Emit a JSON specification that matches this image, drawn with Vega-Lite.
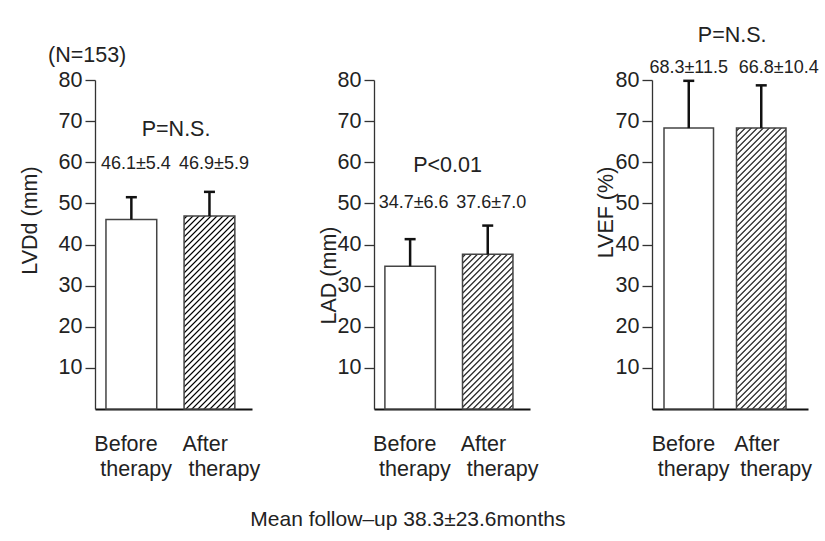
{
  "$schema": "https://vega.github.io/schema/vega-lite/v6.json",
  "background": "white",
  "padding": {"left": 19, "top": 25, "right": 5, "bottom": 10},
  "config": {
    "font": "Liberation Sans",
    "view": {"stroke": null},
    "axis": {"labelFont": "Liberation Sans", "titleFont": "Liberation Sans", "labelColor": "#222", "titleColor": "#222", "grid": false},
    "axisX": {"title": null, "labelAngle": 0, "ticks": false, "tickSize": 0, "labelExpr": "[split(datum.label, ' ')[0], '\u200b\u00a0' + split(datum.label, ' ')[1]]", "labelFontSize": 21.5, "labelLineHeight": 25, "labelPadding": 24, "labelAlign": "left", "labelOffset": {"condition": {"test": "datum.value === 'After therapy'", "value": -27}, "value": -37}, "domainColor": "#111", "domainWidth": 2, "zindex": 1},
    "axisY": {"domainColor": "#333", "domainWidth": 1.3, "tickColor": "#333", "tickWidth": 1.3, "tickSize": 10, "labelPadding": 3, "labelFontSize": 21.5, "titleFontSize": 21.5, "titleFontWeight": "normal", "titleAngle": 270, "titleBaseline": "alphabetic", "titleAlign": "center"},
    "text": {"font": "Liberation Sans", "color": "#222"}
  },
  "datasets": {
    "echo": [
      {"panel": "LVDd", "group": "Before therapy", "mean": 46.1, "upper": 51.5, "label": "46.1±5.4"},
      {"panel": "LVDd", "group": "After therapy", "mean": 46.9, "upper": 52.8, "label": "46.9±5.9"},
      {"panel": "LAD", "group": "Before therapy", "mean": 34.7, "upper": 41.3, "label": "34.7±6.6"},
      {"panel": "LAD", "group": "After therapy", "mean": 37.6, "upper": 44.6, "label": "37.6±7.0"},
      {"panel": "LVEF", "group": "Before therapy", "mean": 68.3, "upper": 79.8, "label": "68.3±11.5"},
      {"panel": "LVEF", "group": "After therapy", "mean": 68.3, "upper": 78.7, "label": "66.8±10.4"}
    ]
  },
  "data": {"name": "echo"},
  "title": {"text": "Mean follow–up 38.3±23.6months", "orient": "bottom", "anchor": "middle", "fontSize": 21, "fontWeight": "normal", "font": "Liberation Sans", "color": "#222", "dx": -11, "offset": 29},
  "spacing": 122,
  "bounds": "flush",
  "hconcat": [
    {
      "width": 157, "height": 329,
      "title": {"text": "(N=153)", "anchor": "start", "frame": "group", "fontSize": 21.5, "fontWeight": "normal", "font": "Liberation Sans", "color": "#222", "dx": -47, "offset": 3},
      "transform": [{"filter": "datum.panel === 'LVDd'"}],
      "encoding": {
        "x": {"field": "group", "type": "nominal", "sort": ["Before therapy", "After therapy"],
          "scale": {"paddingInner": 0.35, "paddingOuter": 0.18, "align": 0.39}},
        "y": {"field": "mean", "type": "quantitative", "scale": {"domain": [0, 80], "nice": false},
          "axis": {"title": "LVDd (mm)", "values": [10, 20, 30, 40, 50, 60, 70, 80], "titleX": -59, "titleY": 140}}
      },
      "layer": [
        {"transform": [{"filter": "datum.group === 'Before therapy'"}], "mark": {"type": "bar", "fill": "white", "stroke": "#444", "strokeWidth": 1.5}},
        {"transform": [{"filter": "datum.group === 'After therapy'"}], "mark": {"type": "bar", "stroke": "#444", "strokeWidth": 1.5,
          "fill": {"gradient": "linear", "x1": 0, "y1": 0, "x2": 0.5104, "y2": 1.9393, "stops": [
{"offset":0.003,"color":"#fff"},{"offset":0.007,"color":"#000"},{"offset":0.011,"color":"#fff"},
{"offset":0.018,"color":"#fff"},{"offset":0.022,"color":"#000"},{"offset":0.026,"color":"#fff"},
{"offset":0.033,"color":"#fff"},{"offset":0.037,"color":"#000"},{"offset":0.041,"color":"#fff"},
{"offset":0.048,"color":"#fff"},{"offset":0.052,"color":"#000"},{"offset":0.056,"color":"#fff"},
{"offset":0.063,"color":"#fff"},{"offset":0.067,"color":"#000"},{"offset":0.071,"color":"#fff"},
{"offset":0.078,"color":"#fff"},{"offset":0.082,"color":"#000"},{"offset":0.086,"color":"#fff"},
{"offset":0.093,"color":"#fff"},{"offset":0.097,"color":"#000"},{"offset":0.101,"color":"#fff"},
{"offset":0.108,"color":"#fff"},{"offset":0.112,"color":"#000"},{"offset":0.116,"color":"#fff"},
{"offset":0.123,"color":"#fff"},{"offset":0.127,"color":"#000"},{"offset":0.131,"color":"#fff"},
{"offset":0.138,"color":"#fff"},{"offset":0.142,"color":"#000"},{"offset":0.146,"color":"#fff"},
{"offset":0.153,"color":"#fff"},{"offset":0.157,"color":"#000"},{"offset":0.161,"color":"#fff"},
{"offset":0.168,"color":"#fff"},{"offset":0.172,"color":"#000"},{"offset":0.176,"color":"#fff"},
{"offset":0.183,"color":"#fff"},{"offset":0.187,"color":"#000"},{"offset":0.191,"color":"#fff"},
{"offset":0.198,"color":"#fff"},{"offset":0.202,"color":"#000"},{"offset":0.206,"color":"#fff"},
{"offset":0.213,"color":"#fff"},{"offset":0.217,"color":"#000"},{"offset":0.221,"color":"#fff"},
{"offset":0.228,"color":"#fff"},{"offset":0.232,"color":"#000"},{"offset":0.236,"color":"#fff"},
{"offset":0.243,"color":"#fff"},{"offset":0.247,"color":"#000"},{"offset":0.251,"color":"#fff"},
{"offset":0.258,"color":"#fff"},{"offset":0.262,"color":"#000"},{"offset":0.266,"color":"#fff"},
{"offset":0.273,"color":"#fff"},{"offset":0.277,"color":"#000"},{"offset":0.281,"color":"#fff"},
{"offset":0.288,"color":"#fff"},{"offset":0.292,"color":"#000"},{"offset":0.296,"color":"#fff"},
{"offset":0.303,"color":"#fff"},{"offset":0.307,"color":"#000"},{"offset":0.311,"color":"#fff"},
{"offset":0.318,"color":"#fff"},{"offset":0.322,"color":"#000"},{"offset":0.326,"color":"#fff"},
{"offset":0.333,"color":"#fff"},{"offset":0.337,"color":"#000"},{"offset":0.341,"color":"#fff"},
{"offset":0.348,"color":"#fff"},{"offset":0.352,"color":"#000"},{"offset":0.356,"color":"#fff"},
{"offset":0.363,"color":"#fff"},{"offset":0.367,"color":"#000"},{"offset":0.371,"color":"#fff"},
{"offset":0.378,"color":"#fff"},{"offset":0.382,"color":"#000"},{"offset":0.386,"color":"#fff"},
{"offset":0.393,"color":"#fff"},{"offset":0.397,"color":"#000"},{"offset":0.401,"color":"#fff"},
{"offset":0.408,"color":"#fff"},{"offset":0.412,"color":"#000"},{"offset":0.416,"color":"#fff"},
{"offset":0.423,"color":"#fff"},{"offset":0.427,"color":"#000"},{"offset":0.431,"color":"#fff"},
{"offset":0.438,"color":"#fff"},{"offset":0.442,"color":"#000"},{"offset":0.446,"color":"#fff"},
{"offset":0.453,"color":"#fff"},{"offset":0.457,"color":"#000"},{"offset":0.461,"color":"#fff"},
{"offset":0.468,"color":"#fff"},{"offset":0.472,"color":"#000"},{"offset":0.476,"color":"#fff"},
{"offset":0.483,"color":"#fff"},{"offset":0.487,"color":"#000"},{"offset":0.491,"color":"#fff"},
{"offset":0.498,"color":"#fff"},{"offset":0.502,"color":"#000"},{"offset":0.506,"color":"#fff"},
{"offset":0.513,"color":"#fff"},{"offset":0.517,"color":"#000"},{"offset":0.521,"color":"#fff"},
{"offset":0.528,"color":"#fff"},{"offset":0.532,"color":"#000"},{"offset":0.536,"color":"#fff"},
{"offset":0.543,"color":"#fff"},{"offset":0.547,"color":"#000"},{"offset":0.551,"color":"#fff"},
{"offset":0.558,"color":"#fff"},{"offset":0.562,"color":"#000"},{"offset":0.566,"color":"#fff"},
{"offset":0.573,"color":"#fff"},{"offset":0.577,"color":"#000"},{"offset":0.581,"color":"#fff"},
{"offset":0.588,"color":"#fff"},{"offset":0.592,"color":"#000"},{"offset":0.596,"color":"#fff"},
{"offset":0.603,"color":"#fff"},{"offset":0.607,"color":"#000"},{"offset":0.611,"color":"#fff"},
{"offset":0.618,"color":"#fff"},{"offset":0.622,"color":"#000"},{"offset":0.626,"color":"#fff"}
          ]}}},
        {"mark": {"type": "rule", "strokeWidth": 2.5, "color": "#111"}, "encoding": {"y2": {"field": "upper"}}},
        {"mark": {"type": "tick", "orient": "horizontal", "size": 11, "thickness": 2.5, "color": "#111", "opacity": 1}, "encoding": {"y": {"field": "upper", "type": "quantitative"}}},
        {"mark": {"type": "text", "baseline": "alphabetic", "fontSize": 18, "dx": 4.5}, "encoding": {"y": {"datum": 58.4}, "text": {"field": "label"}}},
        {"transform": [{"filter": "datum.group === 'After therapy'"}], "mark": {"type": "text", "text": "P=N.S.", "baseline": "alphabetic", "fontSize": 21.5, "dx": -8}, "encoding": {"x": {"datum": "After therapy", "type": "nominal", "bandPosition": 0}, "y": {"datum": 66.4}}}
      ]
    },
    {
      "width": 156, "height": 329,
      "transform": [{"filter": "datum.panel === 'LAD'"}],
      "encoding": {
        "x": {"field": "group", "type": "nominal", "sort": ["Before therapy", "After therapy"],
          "scale": {"paddingInner": 0.35, "paddingOuter": 0.18, "align": 0.39}},
        "y": {"field": "mean", "type": "quantitative", "scale": {"domain": [0, 80], "nice": false},
          "axis": {"title": "LAD (mm)", "values": [10, 20, 30, 40, 50, 60, 70, 80], "titleX": -39, "titleY": 195}}
      },
      "layer": [
        {"transform": [{"filter": "datum.group === 'Before therapy'"}], "mark": {"type": "bar", "fill": "white", "stroke": "#444", "strokeWidth": 1.5}},
        {"transform": [{"filter": "datum.group === 'After therapy'"}], "mark": {"type": "bar", "stroke": "#444", "strokeWidth": 1.5,
          "fill": {"gradient": "linear", "x1": 0, "y1": 0, "x2": 0.7637, "y2": 2.3379, "stops": [
{"offset":0.003,"color":"#fff"},{"offset":0.007,"color":"#000"},{"offset":0.011,"color":"#fff"},
{"offset":0.018,"color":"#fff"},{"offset":0.022,"color":"#000"},{"offset":0.026,"color":"#fff"},
{"offset":0.033,"color":"#fff"},{"offset":0.037,"color":"#000"},{"offset":0.041,"color":"#fff"},
{"offset":0.048,"color":"#fff"},{"offset":0.052,"color":"#000"},{"offset":0.056,"color":"#fff"},
{"offset":0.063,"color":"#fff"},{"offset":0.067,"color":"#000"},{"offset":0.071,"color":"#fff"},
{"offset":0.078,"color":"#fff"},{"offset":0.082,"color":"#000"},{"offset":0.086,"color":"#fff"},
{"offset":0.093,"color":"#fff"},{"offset":0.097,"color":"#000"},{"offset":0.101,"color":"#fff"},
{"offset":0.108,"color":"#fff"},{"offset":0.112,"color":"#000"},{"offset":0.116,"color":"#fff"},
{"offset":0.123,"color":"#fff"},{"offset":0.127,"color":"#000"},{"offset":0.131,"color":"#fff"},
{"offset":0.138,"color":"#fff"},{"offset":0.142,"color":"#000"},{"offset":0.146,"color":"#fff"},
{"offset":0.153,"color":"#fff"},{"offset":0.157,"color":"#000"},{"offset":0.161,"color":"#fff"},
{"offset":0.168,"color":"#fff"},{"offset":0.172,"color":"#000"},{"offset":0.176,"color":"#fff"},
{"offset":0.183,"color":"#fff"},{"offset":0.187,"color":"#000"},{"offset":0.191,"color":"#fff"},
{"offset":0.198,"color":"#fff"},{"offset":0.202,"color":"#000"},{"offset":0.206,"color":"#fff"},
{"offset":0.213,"color":"#fff"},{"offset":0.217,"color":"#000"},{"offset":0.221,"color":"#fff"},
{"offset":0.228,"color":"#fff"},{"offset":0.232,"color":"#000"},{"offset":0.236,"color":"#fff"},
{"offset":0.243,"color":"#fff"},{"offset":0.247,"color":"#000"},{"offset":0.251,"color":"#fff"},
{"offset":0.258,"color":"#fff"},{"offset":0.262,"color":"#000"},{"offset":0.266,"color":"#fff"},
{"offset":0.273,"color":"#fff"},{"offset":0.277,"color":"#000"},{"offset":0.281,"color":"#fff"},
{"offset":0.288,"color":"#fff"},{"offset":0.292,"color":"#000"},{"offset":0.296,"color":"#fff"},
{"offset":0.303,"color":"#fff"},{"offset":0.307,"color":"#000"},{"offset":0.311,"color":"#fff"},
{"offset":0.318,"color":"#fff"},{"offset":0.322,"color":"#000"},{"offset":0.326,"color":"#fff"},
{"offset":0.333,"color":"#fff"},{"offset":0.337,"color":"#000"},{"offset":0.341,"color":"#fff"},
{"offset":0.348,"color":"#fff"},{"offset":0.352,"color":"#000"},{"offset":0.356,"color":"#fff"},
{"offset":0.363,"color":"#fff"},{"offset":0.367,"color":"#000"},{"offset":0.371,"color":"#fff"},
{"offset":0.378,"color":"#fff"},{"offset":0.382,"color":"#000"},{"offset":0.386,"color":"#fff"},
{"offset":0.393,"color":"#fff"},{"offset":0.397,"color":"#000"},{"offset":0.401,"color":"#fff"},
{"offset":0.408,"color":"#fff"},{"offset":0.412,"color":"#000"},{"offset":0.416,"color":"#fff"},
{"offset":0.423,"color":"#fff"},{"offset":0.427,"color":"#000"},{"offset":0.431,"color":"#fff"},
{"offset":0.438,"color":"#fff"},{"offset":0.442,"color":"#000"},{"offset":0.446,"color":"#fff"},
{"offset":0.453,"color":"#fff"},{"offset":0.457,"color":"#000"},{"offset":0.461,"color":"#fff"},
{"offset":0.468,"color":"#fff"},{"offset":0.472,"color":"#000"},{"offset":0.476,"color":"#fff"},
{"offset":0.483,"color":"#fff"},{"offset":0.487,"color":"#000"},{"offset":0.491,"color":"#fff"},
{"offset":0.498,"color":"#fff"},{"offset":0.502,"color":"#000"},{"offset":0.506,"color":"#fff"},
{"offset":0.513,"color":"#fff"},{"offset":0.517,"color":"#000"},{"offset":0.521,"color":"#fff"},
{"offset":0.528,"color":"#fff"},{"offset":0.532,"color":"#000"},{"offset":0.536,"color":"#fff"}
          ]}}},
        {"mark": {"type": "rule", "strokeWidth": 2.5, "color": "#111"}, "encoding": {"y2": {"field": "upper"}}},
        {"mark": {"type": "tick", "orient": "horizontal", "size": 11, "thickness": 2.5, "color": "#111", "opacity": 1}, "encoding": {"y": {"field": "upper", "type": "quantitative"}}},
        {"mark": {"type": "text", "baseline": "alphabetic", "fontSize": 18, "dx": 3.5}, "encoding": {"y": {"datum": 48.9}, "text": {"field": "label"}}},
        {"transform": [{"filter": "datum.group === 'After therapy'"}], "mark": {"type": "text", "text": "P<0.01", "baseline": "alphabetic", "fontSize": 21.5, "dx": -15}, "encoding": {"x": {"datum": "After therapy", "type": "nominal", "bandPosition": 0}, "y": {"datum": 57.7}}}
      ]
    },
    {
      "width": 156, "height": 329,
      "transform": [{"filter": "datum.panel === 'LVEF'"}],
      "encoding": {
        "x": {"field": "group", "type": "nominal", "sort": ["Before therapy", "After therapy"],
          "scale": {"paddingInner": 0.317, "paddingOuter": 0.2345, "align": 0.353}},
        "y": {"field": "mean", "type": "quantitative", "scale": {"domain": [0, 80], "nice": false},
          "axis": {"title": "LVEF (%)", "values": [10, 20, 30, 40, 50, 60, 70, 80], "titleX": -40, "titleY": 132}}
      },
      "layer": [
        {"transform": [{"filter": "datum.group === 'Before therapy'"}], "mark": {"type": "bar", "fill": "white", "stroke": "#444", "strokeWidth": 1.5}},
        {"transform": [{"filter": "datum.group === 'After therapy'"}], "mark": {"type": "bar", "stroke": "#444", "strokeWidth": 1.5,
          "fill": {"gradient": "linear", "x1": 0, "y1": 0, "x2": 0.2434, "y2": 1.3811, "stops": [
{"offset":0.003,"color":"#fff"},{"offset":0.007,"color":"#000"},{"offset":0.011,"color":"#fff"},
{"offset":0.018,"color":"#fff"},{"offset":0.022,"color":"#000"},{"offset":0.026,"color":"#fff"},
{"offset":0.033,"color":"#fff"},{"offset":0.037,"color":"#000"},{"offset":0.041,"color":"#fff"},
{"offset":0.048,"color":"#fff"},{"offset":0.052,"color":"#000"},{"offset":0.056,"color":"#fff"},
{"offset":0.063,"color":"#fff"},{"offset":0.067,"color":"#000"},{"offset":0.071,"color":"#fff"},
{"offset":0.078,"color":"#fff"},{"offset":0.082,"color":"#000"},{"offset":0.086,"color":"#fff"},
{"offset":0.093,"color":"#fff"},{"offset":0.097,"color":"#000"},{"offset":0.101,"color":"#fff"},
{"offset":0.108,"color":"#fff"},{"offset":0.112,"color":"#000"},{"offset":0.116,"color":"#fff"},
{"offset":0.123,"color":"#fff"},{"offset":0.127,"color":"#000"},{"offset":0.131,"color":"#fff"},
{"offset":0.138,"color":"#fff"},{"offset":0.142,"color":"#000"},{"offset":0.146,"color":"#fff"},
{"offset":0.153,"color":"#fff"},{"offset":0.157,"color":"#000"},{"offset":0.161,"color":"#fff"},
{"offset":0.168,"color":"#fff"},{"offset":0.172,"color":"#000"},{"offset":0.176,"color":"#fff"},
{"offset":0.183,"color":"#fff"},{"offset":0.187,"color":"#000"},{"offset":0.191,"color":"#fff"},
{"offset":0.198,"color":"#fff"},{"offset":0.202,"color":"#000"},{"offset":0.206,"color":"#fff"},
{"offset":0.213,"color":"#fff"},{"offset":0.217,"color":"#000"},{"offset":0.221,"color":"#fff"},
{"offset":0.228,"color":"#fff"},{"offset":0.232,"color":"#000"},{"offset":0.236,"color":"#fff"},
{"offset":0.243,"color":"#fff"},{"offset":0.247,"color":"#000"},{"offset":0.251,"color":"#fff"},
{"offset":0.258,"color":"#fff"},{"offset":0.262,"color":"#000"},{"offset":0.266,"color":"#fff"},
{"offset":0.273,"color":"#fff"},{"offset":0.277,"color":"#000"},{"offset":0.281,"color":"#fff"},
{"offset":0.288,"color":"#fff"},{"offset":0.292,"color":"#000"},{"offset":0.296,"color":"#fff"},
{"offset":0.303,"color":"#fff"},{"offset":0.307,"color":"#000"},{"offset":0.311,"color":"#fff"},
{"offset":0.318,"color":"#fff"},{"offset":0.322,"color":"#000"},{"offset":0.326,"color":"#fff"},
{"offset":0.333,"color":"#fff"},{"offset":0.337,"color":"#000"},{"offset":0.341,"color":"#fff"},
{"offset":0.348,"color":"#fff"},{"offset":0.352,"color":"#000"},{"offset":0.356,"color":"#fff"},
{"offset":0.363,"color":"#fff"},{"offset":0.367,"color":"#000"},{"offset":0.371,"color":"#fff"},
{"offset":0.378,"color":"#fff"},{"offset":0.382,"color":"#000"},{"offset":0.386,"color":"#fff"},
{"offset":0.393,"color":"#fff"},{"offset":0.397,"color":"#000"},{"offset":0.401,"color":"#fff"},
{"offset":0.408,"color":"#fff"},{"offset":0.412,"color":"#000"},{"offset":0.416,"color":"#fff"},
{"offset":0.423,"color":"#fff"},{"offset":0.427,"color":"#000"},{"offset":0.431,"color":"#fff"},
{"offset":0.438,"color":"#fff"},{"offset":0.442,"color":"#000"},{"offset":0.446,"color":"#fff"},
{"offset":0.453,"color":"#fff"},{"offset":0.457,"color":"#000"},{"offset":0.461,"color":"#fff"},
{"offset":0.468,"color":"#fff"},{"offset":0.472,"color":"#000"},{"offset":0.476,"color":"#fff"},
{"offset":0.483,"color":"#fff"},{"offset":0.487,"color":"#000"},{"offset":0.491,"color":"#fff"},
{"offset":0.498,"color":"#fff"},{"offset":0.502,"color":"#000"},{"offset":0.506,"color":"#fff"},
{"offset":0.513,"color":"#fff"},{"offset":0.517,"color":"#000"},{"offset":0.521,"color":"#fff"},
{"offset":0.528,"color":"#fff"},{"offset":0.532,"color":"#000"},{"offset":0.536,"color":"#fff"},
{"offset":0.543,"color":"#fff"},{"offset":0.547,"color":"#000"},{"offset":0.551,"color":"#fff"},
{"offset":0.558,"color":"#fff"},{"offset":0.562,"color":"#000"},{"offset":0.566,"color":"#fff"},
{"offset":0.573,"color":"#fff"},{"offset":0.577,"color":"#000"},{"offset":0.581,"color":"#fff"},
{"offset":0.588,"color":"#fff"},{"offset":0.592,"color":"#000"},{"offset":0.596,"color":"#fff"},
{"offset":0.603,"color":"#fff"},{"offset":0.607,"color":"#000"},{"offset":0.611,"color":"#fff"},
{"offset":0.618,"color":"#fff"},{"offset":0.622,"color":"#000"},{"offset":0.626,"color":"#fff"},
{"offset":0.633,"color":"#fff"},{"offset":0.637,"color":"#000"},{"offset":0.641,"color":"#fff"},
{"offset":0.648,"color":"#fff"},{"offset":0.652,"color":"#000"},{"offset":0.656,"color":"#fff"},
{"offset":0.663,"color":"#fff"},{"offset":0.667,"color":"#000"},{"offset":0.671,"color":"#fff"},
{"offset":0.678,"color":"#fff"},{"offset":0.682,"color":"#000"},{"offset":0.686,"color":"#fff"},
{"offset":0.693,"color":"#fff"},{"offset":0.697,"color":"#000"},{"offset":0.701,"color":"#fff"},
{"offset":0.708,"color":"#fff"},{"offset":0.712,"color":"#000"},{"offset":0.716,"color":"#fff"},
{"offset":0.723,"color":"#fff"},{"offset":0.727,"color":"#000"},{"offset":0.731,"color":"#fff"},
{"offset":0.738,"color":"#fff"},{"offset":0.742,"color":"#000"},{"offset":0.746,"color":"#fff"},
{"offset":0.753,"color":"#fff"},{"offset":0.757,"color":"#000"},{"offset":0.761,"color":"#fff"},
{"offset":0.768,"color":"#fff"},{"offset":0.772,"color":"#000"},{"offset":0.776,"color":"#fff"},
{"offset":0.783,"color":"#fff"},{"offset":0.787,"color":"#000"},{"offset":0.791,"color":"#fff"},
{"offset":0.798,"color":"#fff"},{"offset":0.802,"color":"#000"},{"offset":0.806,"color":"#fff"},
{"offset":0.813,"color":"#fff"},{"offset":0.817,"color":"#000"},{"offset":0.821,"color":"#fff"},
{"offset":0.828,"color":"#fff"},{"offset":0.832,"color":"#000"},{"offset":0.836,"color":"#fff"}
          ]}}},
        {"mark": {"type": "rule", "strokeWidth": 2.5, "color": "#111"}, "encoding": {"y2": {"field": "upper"}}},
        {"mark": {"type": "tick", "orient": "horizontal", "size": 11, "thickness": 2.5, "color": "#111", "opacity": 1}, "encoding": {"y": {"field": "upper", "type": "quantitative"}}},
        {"transform": [{"filter": "datum.group === 'Before therapy'"}], "mark": {"type": "text", "baseline": "alphabetic", "fontSize": 18, "dx": 0}, "encoding": {"y": {"datum": 81.7}, "text": {"field": "label"}}},
        {"transform": [{"filter": "datum.group === 'After therapy'"}], "mark": {"type": "text", "baseline": "alphabetic", "fontSize": 18, "dx": 17.5}, "encoding": {"y": {"datum": 81.7}, "text": {"field": "label"}}},
        {"transform": [{"filter": "datum.group === 'After therapy'"}], "mark": {"type": "text", "text": "P=N.S.", "baseline": "alphabetic", "fontSize": 21.5, "dx": -4.3}, "encoding": {"x": {"datum": "After therapy", "type": "nominal", "bandPosition": 0}, "y": {"datum": 89.2}}}
      ]
    }
  ]
}
